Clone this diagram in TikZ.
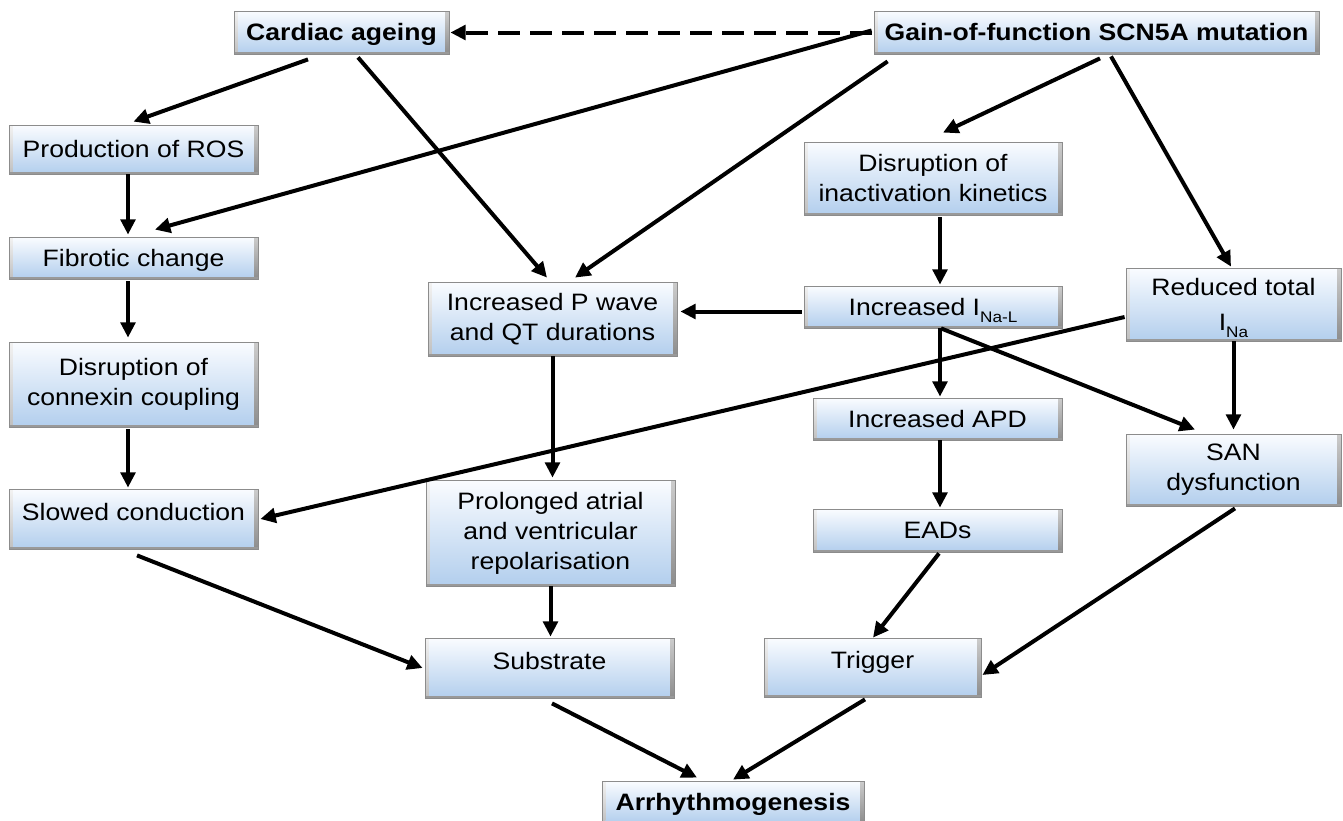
\documentclass[tikz,border=0pt]{standalone}
\usepackage{fontspec}
\setmainfont{Liberation Sans}[FakeStretch=1.12]
\usetikzlibrary{arrows.meta,calc}
\definecolor{boxtop}{RGB}{250,252,255}
\definecolor{boxbot}{RGB}{178,206,237}
\newcommand\subx[1]{\raisebox{-5pt}{\fontsize{11.5pt}{12pt}\selectfont #1}}
\begin{document}
\begin{tikzpicture}[x=0.75pt,y=-0.75pt,
  box/.style={draw=black!45, line width=0.6pt, top color=boxtop, bottom color=boxbot,
    inner sep=0pt, align=center, font=\fontsize{17.8pt}{22.5pt}\selectfont,
    path picture={
      \shade[top color=black!20, bottom color=black!45]
        ([xshift=-3pt]path picture bounding box.north east) rectangle (path picture bounding box.south east);
      \shade[top color=black!5, bottom color=black!25]
        (path picture bounding box.north west) rectangle ([xshift=2.5pt]path picture bounding box.south west);
      \fill[black!40] (path picture bounding box.south west) rectangle ([yshift=1.8pt]path picture bounding box.south east);
    }},
  bold/.style={font=\fontsize{17.8pt}{22.5pt}\selectfont\bfseries},
  one/.style={text height=12.6pt, text depth=0pt},
  up/.style={text height=12pt, text depth=10.5pt},
  sz/.style 2 args={minimum width=#1*0.75pt, minimum height=#2*0.75pt},
  con/.style={line width=3pt, -{Triangle[length=11.5pt,width=11pt]}},
  dashcon/.style={con, dash pattern=on 16pt off 8pt}
]
\useasboundingbox (0,0) rectangle (1343,821);

\node[box,one,bold,sz={215}{43}] (cardiac) at (341.5,32.5) {Cardiac ageing};
\node[box,one,bold,sz={445}{43}] (gain) at (1096.5,32.5) {Gain-of-function SCN5A mutation};
\node[box,one,sz={249}{49}] (ros) at (133.5,149.5) {Production of ROS};
\node[box,one,sz={249}{42}] (fib) at (133.5,258) {Fibrotic change};
\node[box,sz={249}{85}] (conn) at (133.5,384.5) {Disruption of\\connexin coupling};
\node[box,up,sz={249}{60}] (slow) at (133.5,519) {Slowed conduction};
\node[box,sz={249}{74}] (pwave) at (552.5,319) {Increased P wave\\and QT durations};
\node[box,sz={249}{106}] (prol) at (550.5,533) {Prolonged atrial\\and ventricular\\repolarisation};
\node[box,up,sz={249}{60}] (subs) at (549.5,668) {Substrate};
\node[box,sz={258}{73}] (disr) at (933,178.5) {Disruption of\\inactivation kinetics};
\node[box,one,sz={258}{42}] (inal) at (933,307) {Increased I\subx{Na-L}};
\node[box,sz={215}{73},text depth=0pt] (red) at (1233.5,304.5) {Reduced total\\[4pt]I\subx{Na}};
\node[box,one,sz={249}{42}] (apd) at (937.5,419) {Increased APD};
\node[box,one,sz={249}{43}] (eads) at (937.5,530.5) {EADs};
\node[box,sz={215}{72}] (san) at (1233.5,470) {SAN\\dysfunction};
\node[box,up,sz={217}{59}] (trig) at (872.5,667.5) {Trigger};
\node[box,one,bold,sz={262}{42}] (arr) at (733,802) {Arrhythmogenesis};

\draw[dashcon] ($(gain.west)+(-2,0)$) -- ($(cardiac.east)+(1,0)$);
\draw[con] ($(cardiac.south)+(-33.5,5)$) -- ($(ros.north)+(0,-3)$);
\draw[con] ($(cardiac.south)+(16.5,3)$) -- ($(pwave.north)+(-5.5,-4)$);
\draw[con] ($(gain.west)+(-2,-2)$) -- ($(fib.north)+(21.5,-7)$);
\draw[con] ($(gain.south west)+(14,7)$) -- ($(pwave.north)+(22.5,-4)$);
\draw[con] ($(gain.south)+(3.5,4)$) -- ($(disr.north)+(10,-9)$);
\draw[con] ($(gain.south)+(14.5,2)$) -- ($(red.north)+(-2.5,-1)$);
\draw[con] ($(ros.south)+(-5.5,0)$) -- ($(fib.north)+(-5.5,-2)$);
\draw[con] ($(fib.south)+(-5.5,2)$) -- ($(conn.north)+(-5.5,-4)$);
\draw[con] ($(conn.south)+(-5.5,2)$) -- ($(slow.north)+(-5.5,-1)$);
\draw[con] ($(slow.south)+(3.5,6)$) -- ($(subs.west)+(-2,0)$);
\draw[con] (pwave.south) -- ($(prol.north)+(2,-2)$);
\draw[con] (prol.south) -- ($(subs.north)+(1,-1)$);
\draw[con] ($(inal.west)+(-2,4.5)$) -- ($(pwave.east)+(3,-7.5)$);
\draw[con] ($(disr.south)+(7,2)$) -- ($(inal.north)+(7,-1)$);
\draw[con] ($(inal.south)+(7,0)$) -- ($(apd.north)+(2.5,-1)$);
\draw[con] ($(inal.south)+(8,0)$) -- ($(san.north)+(-38.5,-4)$);
\draw[con] ($(red.west)+(-1,12.5)$) -- ($(slow.east)+(2,0)$);
\draw[con] (red.south) -- ($(san.north)+(0,-4)$);
\draw[con] ($(apd.south)+(2.5,0)$) -- ($(eads.north)+(2.5,-1)$);
\draw[con] ($(eads.south)+(1.5,1)$) -- ($(trig.north)+(0.5,0)$);
\draw[con] ($(san.south)+(1.5,2)$) -- ($(trig.east)+(1,7.5)$);
\draw[con] ($(subs.south)+(2.5,5)$) -- ($(arr.north)+(-36,-3)$);
\draw[con] ($(trig.south)+(-7.5,2)$) -- ($(arr.north)+(0,-1)$);
\end{tikzpicture}
\end{document}
